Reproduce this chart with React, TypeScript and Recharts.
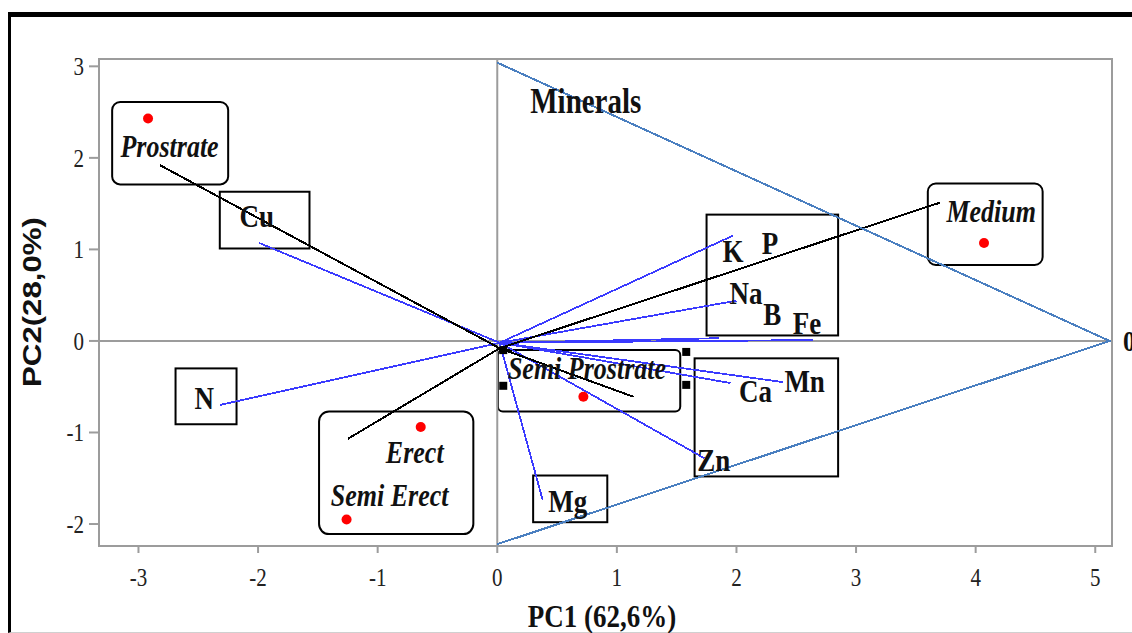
import { ComposedChart, XAxis, YAxis, Scatter, ReferenceLine, ReferenceArea } from 'recharts'

const SERIF = '"Liberation Serif", "Times New Roman", serif'
const SANS = '"Liberation Sans", Arial, sans-serif'
const STRETCH = 1.2 // the source image is taller than wide, text looks stretched

const xTicks = [-3, -2, -1, 0, 1, 2, 3, 4, 5]
const yTicks = [-2, -1, 0, 1, 2, 3]
const xDomain = [-3.33, 5.14]
const yDomain = [-2.24, 3.08]

// growth habit scores (red dots)
const habitScores = [
  { name: 'Prostrate', x: -2.92, y: 2.43 },
  { name: 'Medium', x: 4.07, y: 1.07 },
  { name: 'Semi Prostrate', x: 0.72, y: -0.61 },
  { name: 'Erect', x: -0.64, y: -0.94 },
  { name: 'Semi Erect', x: -1.26, y: -1.95 },
]

// black habit vectors
const habitOrigin = { x: 0.02, y: -0.08 }
const habitVectors = [
  { name: 'Prostrate', x: -2.82, y: 1.92 },
  { name: 'Medium', x: 3.7, y: 1.51 },
  { name: 'Erect', x: -1.25, y: -1.07 },
  { name: 'Semi Prostrate', x: 1.14, y: -0.61 },
]

// blue mineral loadings
const mineralOrigin = { x: 0.02, y: -0.02 }
const mineralVectors = [
  { name: 'Cu', x: -1.99, y: 1.07 },
  { name: 'N', x: -2.32, y: -0.7 },
  { name: 'K', x: 1.97, y: 1.15 },
  { name: 'Na', x: 2.0, y: 0.44 },
  { name: 'B', x: 1.85, y: 0.03 },
  { name: 'Fe', x: 2.64, y: 0.01 },
  { name: 'Ca', x: 1.95, y: -0.46 },
  { name: 'Mn', x: 2.39, y: -0.45 },
  { name: 'Zn', x: 1.73, y: -1.28 },
  { name: 'Mg', x: 0.38, y: -1.74 },
]

const mineralHull = [
  { x: 0, y: 3.04 },
  { x: 5.12, y: 0 },
  { x: 0, y: -2.22 },
]

const boxes = [
  { x1: -3.22, x2: -2.25, y1: 1.71, y2: 2.61, r: 8 },
  { x1: -2.32, x2: -1.57, y1: 1.01, y2: 1.63, r: 0 },
  { x1: -2.69, x2: -2.18, y1: -0.91, y2: -0.3, r: 0 },
  { x1: -1.49, x2: -0.2, y1: -2.11, y2: -0.77, r: 10 },
  { x1: 0.005, x2: 1.53, y1: -0.77, y2: -0.1, r: 5 },
  { x1: 1.75, x2: 2.85, y1: 0.06, y2: 1.38, r: 0 },
  { x1: 1.65, x2: 2.85, y1: -1.48, y2: -0.19, r: 0 },
  { x1: 0.3, x2: 0.92, y1: -1.98, y2: -1.47, r: 0 },
  { x1: 3.6, x2: 4.56, y1: 0.83, y2: 1.72, r: 8 },
]

const handles = [
  { x: 0.05, y: -0.1 },
  { x: 0.05, y: -0.49 },
  { x: 1.58, y: -0.12 },
  { x: 1.58, y: -0.48 },
]

const labels = [
  { text: 'Prostrate', x: -2.74, y: 2.13, kind: 'group' },
  { text: 'Cu', x: -2.01, y: 1.37, kind: 'mineral' },
  { text: 'Minerals', x: 0.74, y: 2.62, kind: 'title' },
  { text: 'Medium', x: 4.13, y: 1.42, kind: 'group' },
  { text: 'K', x: 1.97, y: 0.99, kind: 'mineral' },
  { text: 'P', x: 2.28, y: 1.07, kind: 'mineral' },
  { text: 'Na', x: 2.08, y: 0.53, kind: 'mineral' },
  { text: 'B', x: 2.3, y: 0.3, kind: 'mineral' },
  { text: 'Fe', x: 2.59, y: 0.2, kind: 'mineral' },
  { text: 'Semi Prostrate', x: 0.75, y: -0.3, kind: 'group' },
  { text: 'Ca', x: 2.16, y: -0.54, kind: 'mineral' },
  { text: 'Mn', x: 2.57, y: -0.43, kind: 'mineral' },
  { text: 'Zn', x: 1.81, y: -1.3, kind: 'mineral' },
  { text: 'Mg', x: 0.59, y: -1.74, kind: 'mineral' },
  { text: 'N', x: -2.45, y: -0.62, kind: 'mineral' },
  { text: 'Erect', x: -0.69, y: -1.22, kind: 'group' },
  { text: 'Semi Erect', x: -0.9, y: -1.68, kind: 'group' },
]

const labelStyle: Record<string, { size: number; italic: boolean }> = {
  group: { size: 26, italic: true },
  mineral: { size: 27, italic: false },
  title: { size: 29, italic: false },
}

function StretchText({ x, y, children, size, weight = 'bold', italic = false, anchor = 'middle', family = SERIF, fill = '#111', rotate = 0 }: any) {
  return (
    <text
      transform={`translate(${x},${y}) scale(1,${STRETCH})${rotate ? ` rotate(${rotate})` : ''}`}
      textAnchor={anchor}
      dominantBaseline="central"
      fontSize={size}
      fontWeight={weight}
      fontStyle={italic ? 'italic' : 'normal'}
      fontFamily={family}
      fill={fill}
    >
      {children}
    </text>
  )
}

const GRAY = '#9c9c9c'

export default function App() {
  return (
    <div style={{ position: 'absolute', left: 0, top: 0, width: 1132, height: 633, background: '#fff' }}>
      <div
        style={{
          position: 'absolute',
          left: 8,
          top: 12,
          width: 1124,
          height: 621,
          boxSizing: 'border-box',
          borderTop: '5px solid #000',
          borderLeft: '3px solid #000',
          borderBottom: '1px solid #d0d0d0',
        }}
      />
      <ComposedChart width={1132} height={633} margin={{ top: 0, right: 0, bottom: 0, left: 0 }} style={{ position: 'absolute', left: 0, top: 0 }}>
        <XAxis
          type="number"
          dataKey="x"
          domain={xDomain}
          allowDataOverflow
          ticks={xTicks}
          height={87}
          axisLine={false}
          tickLine={{ stroke: GRAY, strokeWidth: 2 }}
          tickSize={7}
          tick={(p: any) => (
            <StretchText x={p.x} y={577} size={21} weight="normal" fill="#222">
              {String(p.payload.value)}
            </StretchText>
          )}
          label={{
            content: () => (
              <StretchText x={602} y={616} size={27}>
                PC1 (62,6%)
              </StretchText>
            ),
          }}
        />
        <XAxis
          xAxisId="top"
          orientation="top"
          type="number"
          domain={xDomain}
          allowDataOverflow
          ticks={[0]}
          height={59}
          axisLine={false}
          tickLine={false}
          tick={(p: any) => (
            <StretchText x={p.x} y={39} size={25}>
              {String(p.payload.value)}
            </StretchText>
          )}
        />
        <YAxis
          type="number"
          dataKey="y"
          domain={yDomain}
          allowDataOverflow
          ticks={yTicks}
          width={99}
          axisLine={false}
          tickLine={{ stroke: GRAY, strokeWidth: 2 }}
          tickSize={10}
          tick={(p: any) => (
            <StretchText x={84} y={p.y} size={21} weight="normal" anchor="end" fill="#222">
              {String(p.payload.value)}
            </StretchText>
          )}
          label={{
            content: () => (
              <StretchText x={32} y={302} size={26} family={SANS} rotate={-90}>
                PC2(28,0%)
              </StretchText>
            ),
          }}
        />
        <YAxis
          yAxisId="right"
          orientation="right"
          type="number"
          domain={yDomain}
          allowDataOverflow
          ticks={[0]}
          width={20}
          axisLine={false}
          tickLine={false}
          tick={(p: any) => (
            <StretchText x={1123} y={p.y} size={25} anchor="start">
              {String(p.payload.value)}
            </StretchText>
          )}
        />

        <ReferenceArea x1={xDomain[0]} x2={xDomain[1]} y1={yDomain[0]} y2={yDomain[1]} fill="none" stroke={GRAY} strokeWidth={2} ifOverflow="visible" />
        <ReferenceLine x={0} stroke={GRAY} strokeWidth={2} />
        <ReferenceLine y={0} stroke={GRAY} strokeWidth={2} />

        {boxes.map((b, i) => (
          <ReferenceArea
            key={`box-${i}`}
            x1={b.x1}
            x2={b.x2}
            y1={b.y1}
            y2={b.y2}
            ifOverflow="visible"
            shape={(p: any) => (
              <rect x={p.x} y={p.y} width={p.width} height={p.height} rx={b.r} ry={b.r} fill="none" stroke="#000" strokeWidth={2} />
            )}
          />
        ))}

        {mineralVectors.map((v) => (
          <ReferenceLine
            key={`m-${v.name}`}
            segment={[mineralOrigin, { x: v.x, y: v.y }]}
            stroke="#3a3aff"
            strokeWidth={1.8}
            ifOverflow="visible"
            shapeRendering="crispEdges"
          />
        ))}

        {habitVectors.map((v) => (
          <ReferenceLine
            key={`h-${v.name}`}
            segment={[habitOrigin, { x: v.x, y: v.y }]}
            stroke="#000"
            strokeWidth={2}
            ifOverflow="visible"
            shapeRendering="crispEdges"
          />
        ))}

        <Scatter
          data={mineralHull}
          isAnimationActive={false}
          line={{ stroke: '#4a7fc0', strokeWidth: 2, shapeRendering: 'crispEdges' } as any}
          shape={() => <g />}
        />

        <Scatter
          data={handles}
          isAnimationActive={false}
          shape={(p: any) => <rect x={p.cx - 4} y={p.cy - 4} width={8} height={8} fill="#000" />}
        />

        <Scatter
          data={habitScores}
          isAnimationActive={false}
          shape={(p: any) => <circle cx={p.cx} cy={p.cy} r={5} fill="#ff0000" />}
        />

        <Scatter
          data={labels}
          isAnimationActive={false}
          shape={(p: any) => {
            const s = labelStyle[p.payload.kind]
            return (
              <StretchText x={p.cx} y={p.cy} size={s.size} italic={s.italic}>
                {p.payload.text}
              </StretchText>
            )
          }}
        />
      </ComposedChart>
    </div>
  )
}
